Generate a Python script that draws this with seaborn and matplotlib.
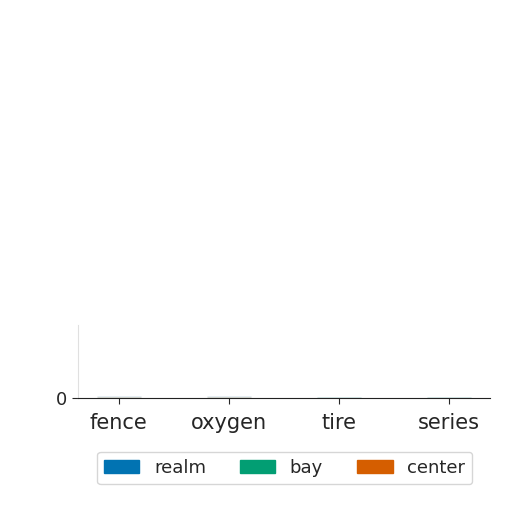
import matplotlib
matplotlib.use("Agg")
import matplotlib.pyplot as plt
import seaborn as sns
import pandas as pd

categories = ["fence", "oxygen", "tire", "series"]
series_names = ["realm", "bay", "center"]
realm = [2.2, 2.2, 1.8, 1.4]
bay = [0.9, 0.9, 0.7, 0.5]
center = [0.5, 0.5, 0.4, 0.3]
colors = ["#0173b2", "#029e73", "#d55e00"]

rows = []
for name, vals in zip(series_names, [realm, bay, center]):
    for c, v in zip(categories, vals):
        rows.append({"category": c, "series": name, "value": v})
df = pd.DataFrame(rows)

sns.set_style("white")
plt.rcParams['font.family'] = ['DejaVu Sans']
fig = plt.figure(figsize=(5.12, 5.12), dpi=100)
ax = fig.add_axes([0.152, 0.223, 0.805, 0.142])
sns.barplot(data=df, x="category", y="value", hue="series", palette=colors,
            dodge=False, width=0.4, ax=ax, alpha=0.4)
ax.set_ylim(0, 100)
ax.set_yticks([0])
ax.set_xlabel("")
ax.set_ylabel("")
ax.tick_params(axis="both", which="both", length=4, direction="out", labelsize=15,
               bottom=True, left=True)
ax.tick_params(axis="x", pad=7)
ax.tick_params(axis="y", labelsize=13)
sns.despine(ax=ax)
ax.spines["left"].set_color("#e0e0e0")
ax.spines["bottom"].set_color("#222222")
ax.set_xlim(-0.373, 3.372)
leg = ax.get_legend()
if leg is not None:
    leg.remove()
handles = [plt.Rectangle((0, 0), 1, 1, color=c) for c in colors]
fig.legend(handles, series_names, loc="center", bbox_to_anchor=(0.556, 0.086),
           ncol=3, fontsize=13, frameon=True, handlelength=1.95, columnspacing=1.9,
           handletextpad=0.8)
fig.savefig("out.png", dpi=100)
